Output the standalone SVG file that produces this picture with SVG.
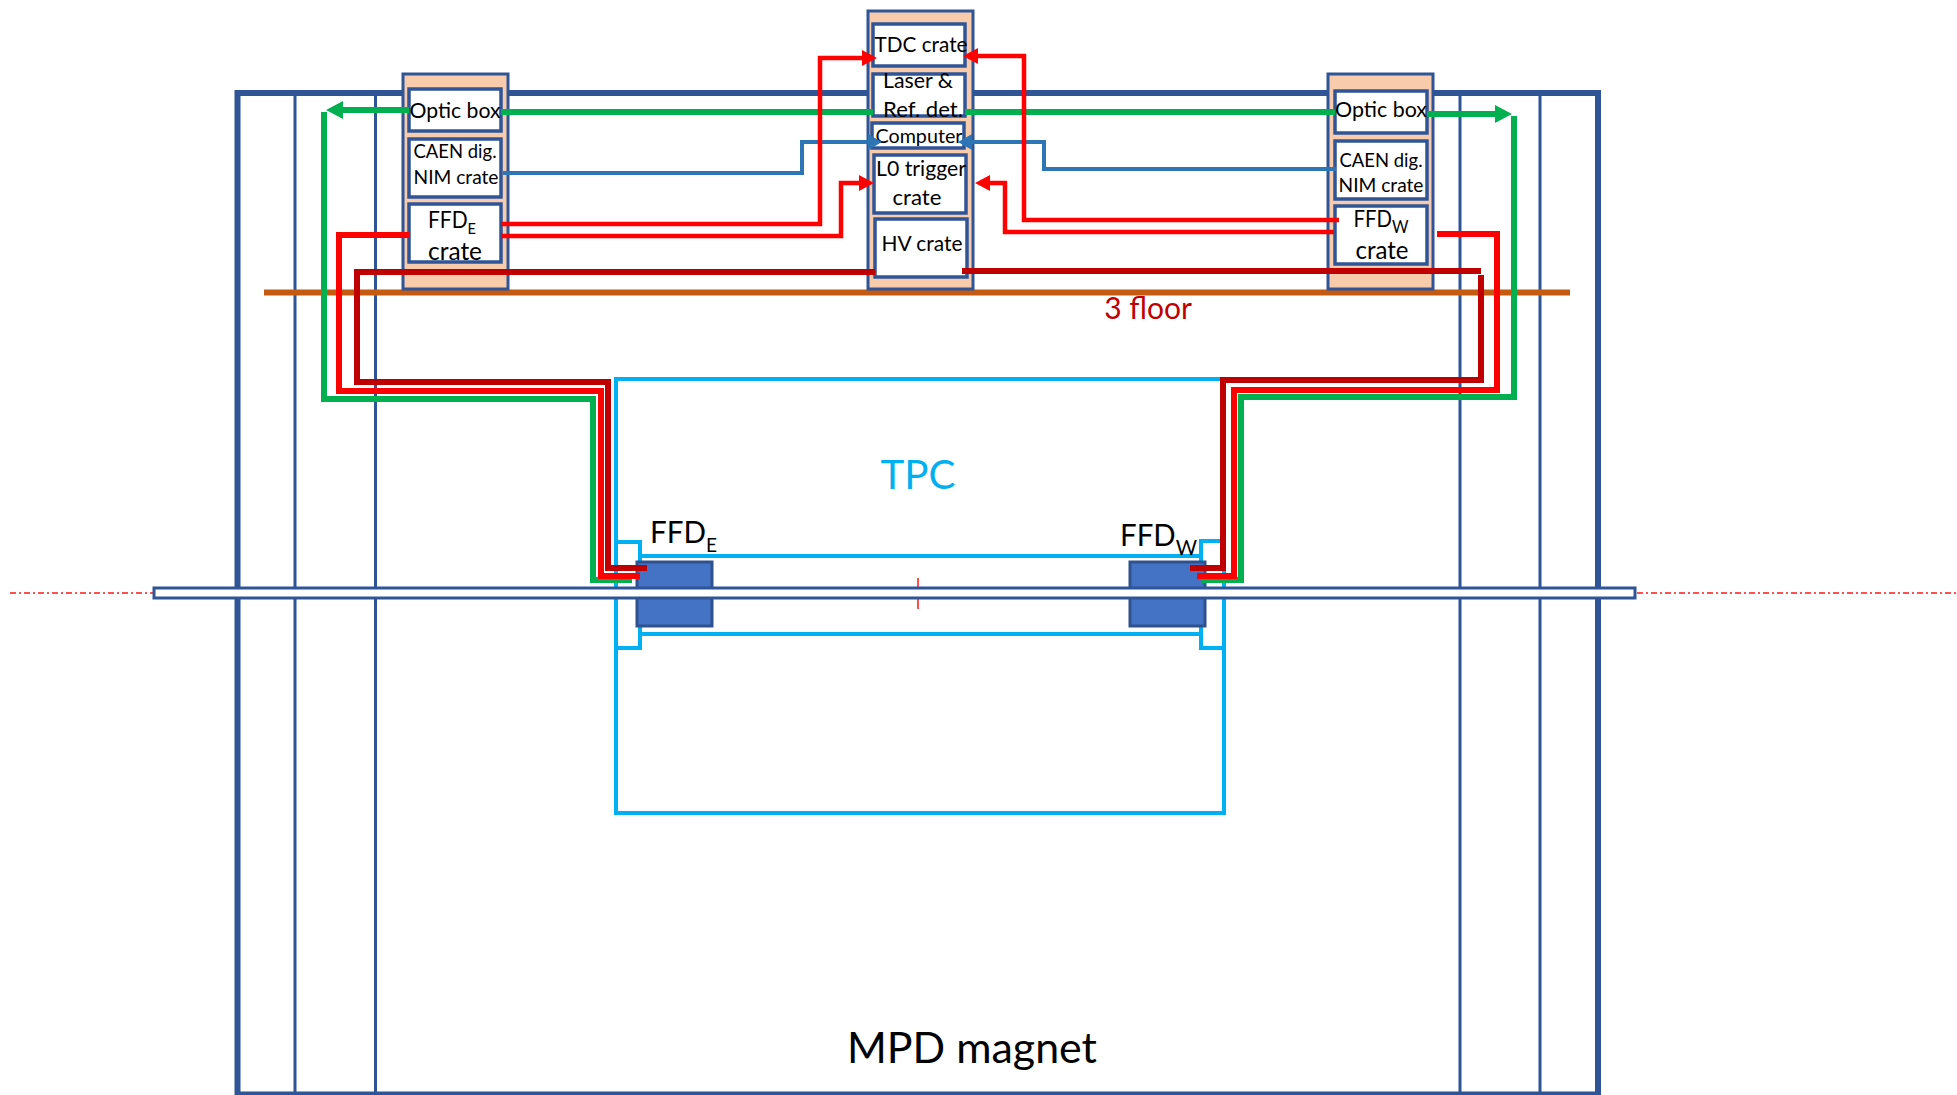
<svg xmlns="http://www.w3.org/2000/svg" width="1957" height="1095" viewBox="0 0 1957 1095">
<style>
text{font-family:Lato,"Liberation Sans",sans-serif;fill:#000;text-anchor:middle}
.mag{fill:none;stroke:#2F5597}
.rack{fill:#F8CBAD;stroke:#2F5597;stroke-width:3}
.box{fill:#fff;stroke:#2F5597;stroke-width:3.500}
.tpc{fill:none;stroke:#00B0F0;stroke-width:4}
.det{fill:#4472C4;stroke:#2F528F;stroke-width:3}
.c{fill:none;stroke-linejoin:miter}
.g{stroke:#00B050;stroke-width:6}
.r{stroke:#FF0000;stroke-width:6}
.rt{stroke:#FF0000;stroke-width:4.500}
.d{stroke:#C00000;stroke-width:6}
.b{stroke:#2E75B6;stroke-width:4}
.s{font-size:19px}
.m{font-size:21.500px}
.l{font-size:22px}
.k{font-size:25px}
</style>
<defs>
<marker id="ar" markerUnits="userSpaceOnUse" markerWidth="15" markerHeight="16" refX="7" refY="8" orient="auto"><path d="M0 0L15 8L0 16Z" fill="#FF0000"/></marker>
<marker id="ab" markerUnits="userSpaceOnUse" markerWidth="14" markerHeight="16" refX="6" refY="8" orient="auto"><path d="M0 0L14 8L0 16Z" fill="#2E75B6"/></marker>
<marker id="ag" markerUnits="userSpaceOnUse" markerWidth="17" markerHeight="18" refX="9" refY="9" orient="auto"><path d="M0 0L17 9L0 18Z" fill="#00B050"/></marker>
</defs>
<g id="magnet">
<path class="mag" stroke-width="6" d="M237.500 1095V93H1598V1095"/>
<path class="mag" stroke-width="5" d="M237 1094H1598"/>
<path class="mag" stroke-width="3" d="M295 93V1095M375.500 93V1095M1460 93V1095M1540 93V1095"/>
<text x="972" y="1063" textLength="250" lengthAdjust="spacingAndGlyphs" style="font-size:43px">MPD magnet</text>
</g>
<g id="tpc">
<path class="tpc" d="M616 379H1224V813H616Z"/>
<path class="tpc" d="M616 542H640V648H616M640 556H1201M640 634H1201M1224 541H1201V648H1224"/>
<text x="918" y="489" textLength="75" lengthAdjust="spacingAndGlyphs" style="font-size:41px;fill:#00B0F0">TPC</text>
</g>
<g id="axis">
<path d="M10 593H154M1637 593H1957" fill="none" stroke="#FF5050" stroke-width="2" stroke-dasharray="6 3 2 3"/>
<path d="M918 578V609" stroke="#FF5050" stroke-width="2"/>
</g>
<g id="ffd-e"><rect class="det" x="637" y="562" width="75" height="64"/><text x="683.500" y="543" textLength="67" lengthAdjust="spacingAndGlyphs" style="font-size:31px">FFD<tspan dy="9" style="font-size:20px">E</tspan></text></g>
<g id="ffd-w"><rect class="det" x="1130" y="562" width="75" height="64"/><text x="1158.500" y="546" textLength="77" lengthAdjust="spacingAndGlyphs" style="font-size:30px">FFD<tspan dy="9" style="font-size:21px">W</tspan></text></g>
<g id="pipe"><rect x="154" y="588" width="1481" height="10" fill="#fff" stroke="#2F5597" stroke-width="3"/></g>
<g id="floor"><path d="M264 292.500H1570" stroke="#C55A11" stroke-width="6"/><text x="1148" y="319" style="font-size:30px;fill:#C00000">3 floor</text></g>
<g id="rack-left"><rect class="rack" x="403" y="74" width="105" height="215"/>
<g id="optic-e"><rect class="box" x="409" y="89" width="92" height="42"/><text class="l" x="455" y="118" textLength="91" lengthAdjust="spacingAndGlyphs">Optic box</text></g>
<g id="caen-e"><rect class="box" x="409" y="139" width="92" height="58"/><text class="s" x="455" y="158" textLength="83" lengthAdjust="spacingAndGlyphs">CAEN dig.</text><text class="s" x="456" y="184" textLength="85" lengthAdjust="spacingAndGlyphs">NIM crate</text></g>
<g id="crate-e"><rect class="box" x="409" y="204" width="92" height="58"/><text x="452" y="228" textLength="48" lengthAdjust="spacingAndGlyphs" style="font-size:23px">FFD<tspan dy="6" style="font-size:16px">E</tspan></text><text class="k" x="455" y="260" textLength="54" lengthAdjust="spacingAndGlyphs">crate</text></g>
</g>
<g id="rack-center"><rect class="rack" x="868" y="11" width="105" height="278"/>
<g id="tdc"><rect class="box" x="873" y="24" width="92" height="42"/><text class="l" x="921" y="52" textLength="93" lengthAdjust="spacingAndGlyphs">TDC crate</text></g>
<g id="laser"><rect class="box" x="873" y="74" width="92" height="42"/><text class="l" x="918" y="88" textLength="70" lengthAdjust="spacingAndGlyphs">Laser &amp;</text><text class="l" x="923" y="117" textLength="80" lengthAdjust="spacingAndGlyphs">Ref. det.</text></g>
<g id="computer"><rect class="box" x="872" y="123" width="92" height="25"/><text class="s" x="919" y="143" textLength="87" lengthAdjust="spacingAndGlyphs">Computer</text></g>
<g id="l0"><rect class="box" x="874" y="155" width="92" height="58"/><text class="m" x="921" y="176" textLength="90" lengthAdjust="spacingAndGlyphs">L0 trigger</text><text class="m" x="917" y="205" textLength="49" lengthAdjust="spacingAndGlyphs">crate</text></g>
<g id="hv"><rect class="box" x="875" y="219" width="92" height="58"/><text class="m" x="922" y="251" textLength="81" lengthAdjust="spacingAndGlyphs">HV crate</text></g>
</g>
<g id="rack-right"><rect class="rack" x="1328" y="74" width="105" height="215"/>
<g id="optic-w"><rect class="box" x="1335" y="91" width="92" height="42"/><text class="l" x="1381" y="117" textLength="92" lengthAdjust="spacingAndGlyphs">Optic box</text></g>
<g id="caen-w"><rect class="box" x="1335" y="141" width="92" height="58"/><text class="s" x="1381" y="167" textLength="83" lengthAdjust="spacingAndGlyphs">CAEN dig.</text><text class="s" x="1381" y="192" textLength="85" lengthAdjust="spacingAndGlyphs">NIM crate</text></g>
<g id="crate-w"><rect class="box" x="1335" y="206" width="92" height="58"/><text x="1381" y="227" textLength="55" lengthAdjust="spacingAndGlyphs" style="font-size:23px">FFD<tspan dy="6" style="font-size:18px">W</tspan></text><text class="k" x="1382" y="259" textLength="53" lengthAdjust="spacingAndGlyphs">crate</text></g>
</g>
<g id="connectors">
<path class="c g" d="M501 112H873M965 112H1335"/>
<path class="c g" marker-end="url(#ag)" d="M409 110H334"/>
<path class="c g" d="M324 112V399H593V580H632"/>
<path class="c g" marker-end="url(#ag)" d="M1427 114H1504"/>
<path class="c g" d="M1514 116V397H1241V580H1202"/>
<path class="c r" d="M409 235H339V391H601V576H640"/>
<path class="c r" d="M1437 234H1497V390H1234V576H1197"/>
<path class="c d" d="M875 272H357V382H608V568H647"/>
<path class="c d" d="M962 271H1481M1481 275V380H1223V568H1190"/>
<path class="c b" marker-end="url(#ab)" d="M503 173H802V142H874"/>
<path class="c b" marker-end="url(#ab)" d="M1336 169H1044V142H966"/>
<path class="c rt" marker-end="url(#ar)" d="M501 224H820V58H869"/>
<path class="c rt" marker-end="url(#ar)" d="M501 236H841V183H866"/>
<path class="c rt" marker-end="url(#ar)" d="M1339 220H1024V56H971"/>
<path class="c rt" marker-end="url(#ar)" d="M1334 232H1005V183H983"/>
</g>
</svg>
